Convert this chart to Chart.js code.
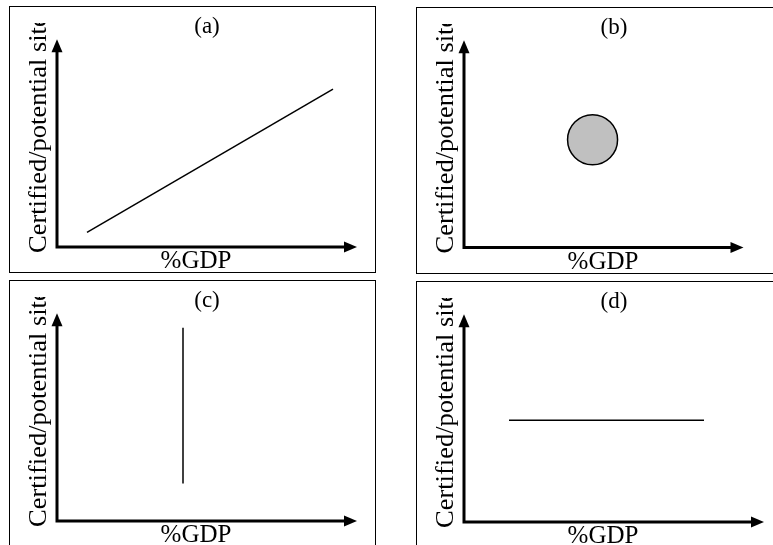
<!DOCTYPE html>
<html>
<head>
<meta charset="utf-8">
<script src="https://cdn.jsdelivr.net/npm/chart.js@4"></script>
<style>
body { margin: 0; background: #fff; width: 773px; height: 545px; overflow: hidden; position: relative; }
.frame { position: absolute; width: 367px; height: 267px; border: 1.5px solid #000; box-sizing: border-box; }
.box { position: absolute; width: 354px; height: 267px; }
</style>
</head>
<body>
<div class="frame" style="left:9px;top:6px"></div>
<div class="box" style="left:9px;top:6px"><canvas id="chartA"></canvas></div>
<div class="frame" style="left:416px;top:7px"></div>
<div class="box" style="left:416px;top:7px"><canvas id="chartB"></canvas></div>
<div class="frame" style="left:9px;top:280px"></div>
<div class="box" style="left:9px;top:280px"><canvas id="chartC"></canvas></div>
<div class="frame" style="left:416px;top:281px"></div>
<div class="box" style="left:416px;top:281px"><canvas id="chartD"></canvas></div>
<script>
// textos
const panelTitles = ['(a)', '(b)', '(c)', '(d)'];
const xLabel = '%GDP';
const yLabel = 'Certified/potential site';

// (a) recta creciente
const lineAX = [10, 92];
const lineAY = [7, 76];
// (b) circulo
const circleBX = [46];
const circleBY = [52];
const circleBR = [25];
// (c) recta vertical
const lineCX = [42, 42];
const lineCY = [18, 93];
// (d) recta horizontal
const lineDX = [15, 80];
const lineDY = [49, 49];

const serif = '"Liberation Serif", "Times New Roman", serif';

function puntos(xs, ys) {
    return xs.map((x, i) => ({ x: x, y: ys[i] }));
}

// ejes con flechas y etiquetas
const ejesPlugin = {
    id: 'ejes',
    afterDraw(chart) {
        const ctx = chart.ctx;
        const area = chart.chartArea;
        const x0 = area.left, y0 = area.bottom;
        const flecha = 13, ancho = 5.5;
        ctx.save();
        ctx.strokeStyle = '#000';
        ctx.fillStyle = '#000';
        ctx.lineWidth = 3;
        ctx.lineCap = 'square';
        ctx.beginPath();
        ctx.moveTo(x0, area.top + flecha);
        ctx.lineTo(x0, y0);
        ctx.lineTo(area.right - flecha, y0);
        ctx.stroke();
        // flecha y
        ctx.beginPath();
        ctx.moveTo(x0, area.top);
        ctx.lineTo(x0 - ancho, area.top + flecha);
        ctx.lineTo(x0 + ancho, area.top + flecha);
        ctx.closePath();
        ctx.fill();
        // flecha x
        ctx.beginPath();
        ctx.moveTo(area.right, y0);
        ctx.lineTo(area.right - flecha, y0 - ancho);
        ctx.lineTo(area.right - flecha, y0 + ancho);
        ctx.closePath();
        ctx.fill();

        // etiqueta x
        ctx.font = '25px ' + serif;
        ctx.textAlign = 'center';
        ctx.textBaseline = 'alphabetic';
        ctx.fillText(xLabel, 187, y0 + 21);

        // etiqueta y (recortada arriba como en la figura)
        ctx.beginPath();
        ctx.rect(0, 17, x0 - 2, chart.height);
        ctx.clip();
        ctx.translate(37, y0 + 6);
        ctx.rotate(-Math.PI / 2);
        ctx.scale(1.06, 1);
        ctx.font = '25px ' + serif;
        ctx.textAlign = 'left';
        ctx.fillText(yLabel, 0, 0);
        ctx.restore();
    }
};

function crearPanel(id, titulo, datasets) {
    return new Chart(document.getElementById(id), {
        type: 'scatter',
        data: { datasets: datasets },
        options: {
            responsive: true,
            maintainAspectRatio: false,
            animation: false,
            layout: { padding: { left: 48, right: 6, top: 0, bottom: 26 } },
            plugins: {
                legend: { display: false },
                tooltip: { enabled: false },
                title: {
                    display: true,
                    text: titulo,
                    color: '#000',
                    font: { family: serif, size: 23, weight: 'normal', lineHeight: 1.1 },
                    padding: { top: 8, bottom: 0 }
                }
            },
            scales: {
                x: { type: 'linear', min: 0, max: 100, display: false },
                y: { type: 'linear', min: 0, max: 100, display: false }
            }
        },
        plugins: [ejesPlugin]
    });
}

function recta(xs, ys) {
    return {
        type: 'line',
        data: puntos(xs, ys),
        showLine: true,
        borderColor: '#000',
        borderWidth: 1.5,
        pointRadius: 0,
        fill: false
    };
}

crearPanel('chartA', panelTitles[0], [recta(lineAX, lineAY)]);

crearPanel('chartB', panelTitles[1], [{
    type: 'bubble',
    data: circleBX.map((x, i) => ({ x: x, y: circleBY[i], r: circleBR[i] })),
    backgroundColor: '#c0c0c0',
    borderColor: '#000',
    borderWidth: 1.5
}]);

crearPanel('chartC', panelTitles[2], [recta(lineCX, lineCY)]);

crearPanel('chartD', panelTitles[3], [recta(lineDX, lineDY)]);
</script>
</body>
</html>
